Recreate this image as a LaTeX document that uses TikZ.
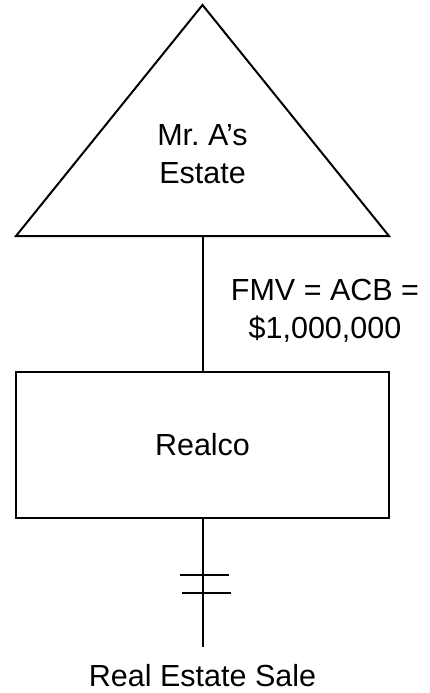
\documentclass[tikz,border=0pt]{standalone}
\usepackage{fontspec}
\setmainfont{Liberation Sans}
\usetikzlibrary{positioning}
\begin{document}
\begin{tikzpicture}[x=1pt, y=-1pt, line width=2pt,
    label text/.style={font=\fontsize{30.5}{38}\selectfont, align=center}]
    \useasboundingbox (0,0) rectangle (429,693);

    % Estate triangle
    \coordinate (apex) at (202.5,5);
    \coordinate (base left) at (16,236);
    \coordinate (base right) at (389,236);
    \coordinate (base mid) at (202.5,236);
    \draw[line join=miter] (apex) -- (base left) -- (base right) -- cycle;
    \node[label text, anchor=base] (estate) at (202.5,183) {Mr.\ A’s\\Estate};

    % Company box
    \node[draw, label text, minimum width=373pt, minimum height=146pt, inner sep=0pt]
        (realco) at (202.5,445) {Realco};

    % Shareholding line and its value
    \draw (base mid) -- (realco.north);
    \node[label text, anchor=base] (value) at (325,338) {FMV = ACB =\\\$1,000,000};

    % Sale line, cut by the two ticks
    \coordinate[below=128pt of realco.south] (sale end);
    \draw (realco.south) -- (sale end);
    \draw[line width=2.5pt] (180,575) -- (229,575);
    \draw[line width=2.5pt] (182,593) -- (231,593);
    \node[label text, anchor=base] (sale) at (202.5,686) {Real Estate Sale};
\end{tikzpicture}
\end{document}
